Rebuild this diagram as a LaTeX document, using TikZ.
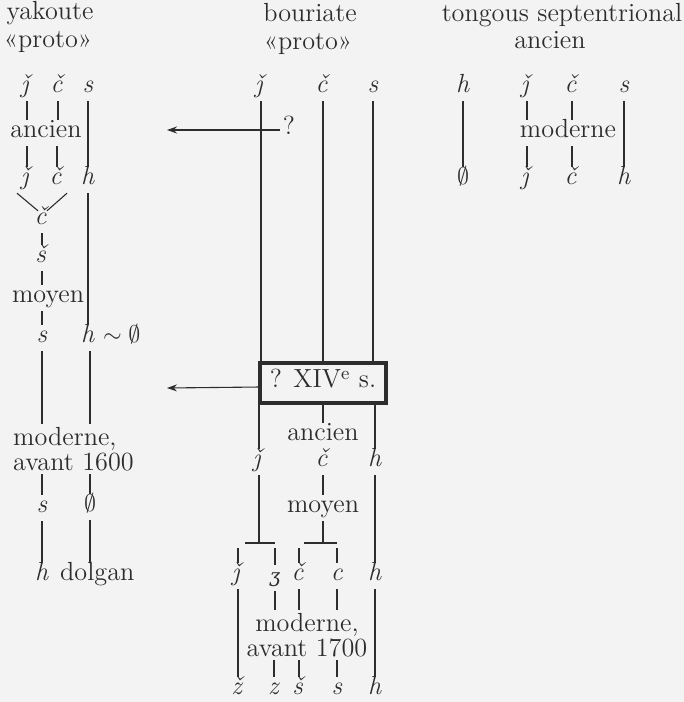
\documentclass[tikz,border=0pt]{standalone}
\usepackage{fontspec}
\newfontfamily\ezhfont{DejaVu Serif}[Scale=0.72]
\usetikzlibrary{arrows.meta,calc}
\definecolor{paper}{RGB}{243,243,243}
\definecolor{ink}{RGB}{45,45,45}
\newcommand\phon[1]{\textit{#1}}
\begin{document}
\begin{tikzpicture}[x=0.5pt,y=-0.5pt,
  every node/.style={inner sep=0pt,outer sep=1.6pt,text height=7.4pt,text depth=2.6pt,
    font=\fontsize{13.1}{15.5}\selectfont,text=ink},
  twoline/.style={text height=,text depth=,font=\fontsize{13.1}{12.6}\selectfont},
  ln/.style={draw=ink,line width=1.35pt},
  thinln/.style={draw=ink,line width=0.55pt},
  arr/.style={draw=ink,line width=0.55pt,-{Stealth[length=5pt,width=3.5pt]}},
  xivbox/.style={draw=ink,line width=2.4pt,minimum width=63pt,minimum height=20pt,outer sep=0pt}]
\fill[paper] (0,0) rectangle (684,702);
\useasboundingbox (0,0) rectangle (684,702);

% headers
\node (hy1) at (50,15) {yakoute};
\node (hy2) at (48,43) {«proto»};
\node (hb1) at (310,17) {bouriate};
\node (hb2) at (308,45) {«proto»};
\node (ht1) at (562,17) {tongous septentrional};
\node (ht2) at (550,44) {ancien};

% ---------- yakoute ----------
\node (yj0) at (27,88) {\phon{ǰ}};
\node (yc0) at (58,88) {\phon{č}};
\node (ys0) at (88,88) {\phon{s}};
\node (yanc) at (46,133) {ancien};
\node (yj1) at (27,180) {\phon{ǰ}};
\node (yc1) at (57,180) {\phon{č}};
\node (yh1) at (88,180) {\phon{h}};
\node (yc2) at (42,220) {\phon{č}};
\node (ys2) at (42,258) {\phon{š}};
\node (ymoy) at (48,298) {moyen};
\node (ys3) at (42,338) {\phon{s}};
\node (yh3) at (88,338) {\phon{h}};
\node[anchor=west] (ytil) at (100,338) {$\sim\emptyset$};
\node[twoline,align=left,anchor=west] (ymod) at (10,449) {moderne,\\avant 1600};
\node (ys4) at (42,508) {\phon{s}};
\node (yz4) at (90,507) {$\emptyset$};
\node (yh5) at (42,576) {\phon{h}};
\node[anchor=west] (ydol) at (57,576) {dolgan};

\draw[ln] (yj0) -- (yj0 |- yanc.north);
\draw[ln] (yc0) -- (yc0 |- yanc.north);
\draw[ln] (ys0) -- (yh1);
\draw[ln] (yj1 |- yanc.south) -- (yj1);
\draw[ln] (yc1 |- yanc.south) -- (yc1);
\draw[thinln] ([xshift=-5pt]yj1.south) -- ([xshift=-2pt,yshift=-2pt]yc2.north);
\draw[thinln] ([xshift=5pt]yc1.south) -- ([xshift=2.5pt,yshift=-2pt]yc2.north);
\draw[ln] (yh1) -- (yh3);
\draw[ln] (yc2) -- (ys2);
\draw[ln] (ys2) -- (ys2 |- ymoy.north);
\draw[ln] (ys3 |- ymoy.south) -- (ys3);
\draw[ln] (ys3) -- (ys3 |- ymod.north);
\draw[ln] ([xshift=1pt]yh3.south) -- ([xshift=1pt]yh3.south |- ymod.north);
\draw[ln] (ys4 |- ymod.south) -- (ys4);
\draw[ln] (yz4 |- ymod.south) -- (yz4);
\draw[ln] (ys4) -- (yh5);
\draw[ln] (yz4) -- (yz4 |- ydol.north);

% ---------- bouriate ----------
\node (bj0) at (261,88) {\phon{ǰ}};
\node (bc0) at (323,88) {\phon{č}};
\node (bs0) at (373,88) {\phon{s}};
\node[xivbox] (box) at (323,383) {? XIV\textsuperscript{e} s.};
\node (bq) at (289,130) {?};
\coordinate (a1) at (167,130);
\coordinate (a2) at (167,388);
\draw[arr] (bq.west) -- (a1);
\draw[arr] ([yshift=-2pt]box.west) -- (a2);

\draw[ln] (bj0) -- (bj0 |- box.north);
\draw[ln] (bc0) -- (bc0 |- box.north);
\draw[ln] (bs0) -- (bs0 |- box.north);

\node (banc) at (323,436) {ancien};
\node (bj1) at (259,462) {\phon{ǰ}};
\node (bc1) at (323,462) {\phon{č}};
\node (bh1) at (375,462) {\phon{h}};
\draw[ln] (box.south -| bj1) -- (bj1);
\draw[ln] (box.south -| banc) -- (banc);
\draw[ln] (box.south -| bh1) -- (bh1);

\node (bmoy) at (323,508) {moyen};
\coordinate (bar1) at (259,543);
\coordinate (bar2) at (321,543);
\draw[ln] (bj1) -- (bar1);
\draw[ln] ([xshift=-7pt]bar1) -- ([xshift=8pt]bar1);
\draw[ln] (bc1) -- (bmoy);
\draw[ln] (bmoy) -- (bmoy |- bar2);
\draw[ln] ([xshift=-8.5pt]bar2) -- ([xshift=8pt]bar2);

\node (bj2) at (238,576) {\phon{ǰ}};
\node (bz2) at (275,578) {\ezhfont\itshape ʒ};
\node (bc2) at (299,576) {\phon{č}};
\node (bcc2) at (337,576) {\phon{c}};
\node (bh2) at (375,576) {\phon{h}};
\draw[ln] ([yshift=-2.5pt]bar1 -| bj2) -- (bj2);
\draw[ln] ([yshift=-2.5pt]bar1 -| bz2) -- (bz2);
\draw[ln] ([yshift=-2.5pt]bar2 -| bc2) -- (bc2);
\draw[ln] ([yshift=-2.5pt]bar2 -| bcc2) -- (bcc2);
\draw[ln] (bh1) -- (bh2);

\node[twoline,align=center] (bmod) at (307,635) {moderne,\\avant 1700};
\node (bzz3) at (238,690) {\phon{ž}};
\node (bz3) at (274,690) {\phon{z}};
\node (bs3) at (299,690) {\phon{š}};
\node (bss3) at (337,690) {\phon{s}};
\node (bh3) at (375,690) {\phon{h}};
\draw[ln] (bj2) -- (bzz3);
\draw[ln] (bh2) -- (bh3);
\draw[ln] (bz2) -- (bz2 |- bmod.north);
\draw[ln] (bc2) -- (bc2 |- bmod.north);
\draw[ln] (bcc2) -- (bcc2 |- bmod.north);
\draw[ln] (bz3 |- bmod.south) -- (bz3);
\draw[ln] (bs3 |- bmod.south) -- (bs3);
\draw[ln] (bss3 |- bmod.south) -- (bss3);

% ---------- tongous ----------
\node (th0) at (463,88) {\phon{h}};
\node (tj0) at (527,88) {\phon{ǰ}};
\node (tc0) at (572,88) {\phon{č}};
\node (ts0) at (624,88) {\phon{s}};
\node (tmod) at (568,133) {moderne};
\node (tz1) at (463,180) {$\emptyset$};
\node (tj1) at (527,180) {\phon{ǰ}};
\node (tc1) at (572,180) {\phon{č}};
\node (th1) at (624,180) {\phon{h}};
\draw[ln] (th0) -- (tz1);
\draw[ln] (ts0) -- (th1);
\draw[ln] (tj0) -- (tj0 |- tmod.north);
\draw[ln] (tc0) -- (tc0 |- tmod.north);
\draw[ln] (tj1 |- tmod.south) -- (tj1);
\draw[ln] (tc1 |- tmod.south) -- (tc1);
\end{tikzpicture}
\end{document}
